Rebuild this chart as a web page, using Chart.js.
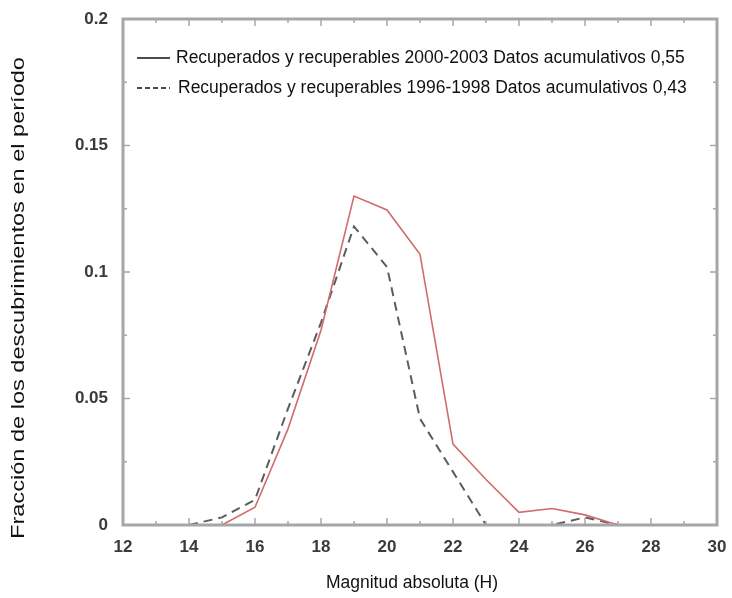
<!DOCTYPE html>
<html lang="es">
<head>
  <meta charset="UTF-8">
  <title>Fracción de los descubrimientos</title>
  <script src="https://cdn.jsdelivr.net/npm/chart.js"></script>
  <style>
    body { margin: 0; padding: 0; background: #fff; }
    .wrap { width: 732px; height: 598px; }
  </style>
</head>
<body>
  <div class="wrap"><canvas id="chart" width="732" height="598"></canvas></div>
  <script>
    // magnitud absoluta (H)
    const magRecent = [15, 16, 17, 18, 19, 20, 21, 22, 23, 24, 25, 26, 27];
    const fracRecent = [0, 0.007, 0.038, 0.077, 0.130, 0.1245, 0.107, 0.032, 0.018, 0.005, 0.0065, 0.004, 0];
    const magOld = [14, 15, 16, 17, 18, 19, 20, 21, 22, 23, 24, 25, 26, 27];
    const fracOld = [0, 0.003, 0.01, 0.046, 0.08, 0.118, 0.102, 0.042, 0.021, 0, 0, 0, 0.003, 0];

    const labelRecent = 'Recuperados y recuperables 2000-2003 Datos acumulativos 0,55';
    const labelOld = 'Recuperados y recuperables 1996-1998 Datos acumulativos 0,43';

    const xMin = 12, xMax = 30, xStep = 2;
    const yMin = 0, yMax = 0.2, yStep = 0.05;
    const yTickLabels = { 0: '0', 0.05: '0.05', 0.1: '0.1', 0.15: '0.15', 0.2: '0.2' };

    const FONT = 'Arial, "Liberation Sans", sans-serif';

    function toPoints(xs, ys) {
      return xs.map((x, i) => ({ x: x, y: ys[i] }));
    }

    // frame, inward ticks, legend and axis titles
    const decor = {
      id: 'decor',
      afterDatasetsDraw(chart) {
        const { ctx, chartArea: a, scales } = chart;
        const xs = scales.x, ys = scales.y;
        ctx.save();
        ctx.strokeStyle = '#a6a6a6';
        ctx.lineWidth = 1.5;
        ctx.beginPath();
        for (let v = xMin; v <= xMax; v += 1) {
          const px = xs.getPixelForValue(v);
          const len = (v % 2 === 0) ? 7 : 4;
          ctx.moveTo(px, a.bottom); ctx.lineTo(px, a.bottom - len);
          ctx.moveTo(px, a.top); ctx.lineTo(px, a.top + len);
        }
        for (let k = 0; k <= 8; k++) {
          const v = k * 0.025;
          const py = ys.getPixelForValue(v);
          const len = (k % 2 === 0) ? 7 : 4;
          ctx.moveTo(a.left, py); ctx.lineTo(a.left + len, py);
          ctx.moveTo(a.right, py); ctx.lineTo(a.right - len, py);
        }
        ctx.stroke();
        ctx.lineWidth = 3;
        ctx.strokeRect(a.left, a.top, a.right - a.left, a.bottom - a.top);

        // legend
        ctx.fillStyle = '#111';
        ctx.font = '17.5px ' + FONT;
        ctx.textBaseline = 'middle';
        ctx.strokeStyle = '#111';
        ctx.lineWidth = 1.3;
        ctx.beginPath();
        ctx.moveTo(a.left + 14, 58); ctx.lineTo(a.left + 47, 58);
        ctx.stroke();
        ctx.fillText(labelRecent, a.left + 53, 58);
        ctx.setLineDash([5, 3]);
        ctx.beginPath();
        ctx.moveTo(a.left + 14, 88); ctx.lineTo(a.left + 47, 88);
        ctx.stroke();
        ctx.setLineDash([]);
        ctx.fillText(labelOld, a.left + 55, 88);

        // axis titles
        ctx.textAlign = 'center';
        ctx.fillText('Magnitud absoluta (H)', 412, 583);
        ctx.font = '19px ' + FONT;
        ctx.translate(19, 298);
        ctx.rotate(-Math.PI / 2);
        ctx.scale(1.24, 1);
        ctx.fillText('Fracción de los descubrimientos en el período', 0, 0);
        ctx.restore();
      }
    };

    new Chart(document.getElementById('chart'), {
      type: 'line',
      data: {
        datasets: [
          {
            label: labelRecent,
            data: toPoints(magRecent, fracRecent),
            borderColor: '#d26b6b',
            borderWidth: 1.6,
            pointRadius: 0,
            tension: 0,
            fill: false
          },
          {
            label: labelOld,
            data: toPoints(magOld, fracOld),
            borderColor: '#5c5c5c',
            borderWidth: 2,
            borderDash: [9, 6],
            pointRadius: 0,
            tension: 0,
            fill: false
          }
        ]
      },
      options: {
        responsive: false,
        animation: false,
        layout: { padding: { left: 0, right: 15, top: 19, bottom: 0 } },
        plugins: { legend: { display: false }, tooltip: { enabled: false } },
        scales: {
          x: {
            type: 'linear',
            min: xMin, max: xMax,
            grid: { display: false, drawTicks: false },
            border: { display: false },
            ticks: {
              stepSize: xStep,
              padding: 12,
              color: '#3a3a3a',
              font: { family: FONT, size: 17, weight: 'bold' },
              maxRotation: 0
            },
            afterFit(scale) {
              scale.height = 73;
              scale.paddingLeft = 0;
              scale.paddingRight = 0;
            }
          },
          y: {
            min: yMin, max: yMax,
            grid: { display: false, drawTicks: false },
            border: { display: false },
            ticks: {
              stepSize: yStep,
              padding: 15,
              color: '#3a3a3a',
              font: { family: FONT, size: 17, weight: 'bold' },
              callback: v => yTickLabels[Math.round(v * 100) / 100] ?? ''
            },
            afterFit(scale) {
              scale.width = 123;
              scale.paddingTop = 0;
              scale.paddingBottom = 0;
            }
          }
        }
      },
      plugins: [decor]
    });
  </script>
</body>
</html>
